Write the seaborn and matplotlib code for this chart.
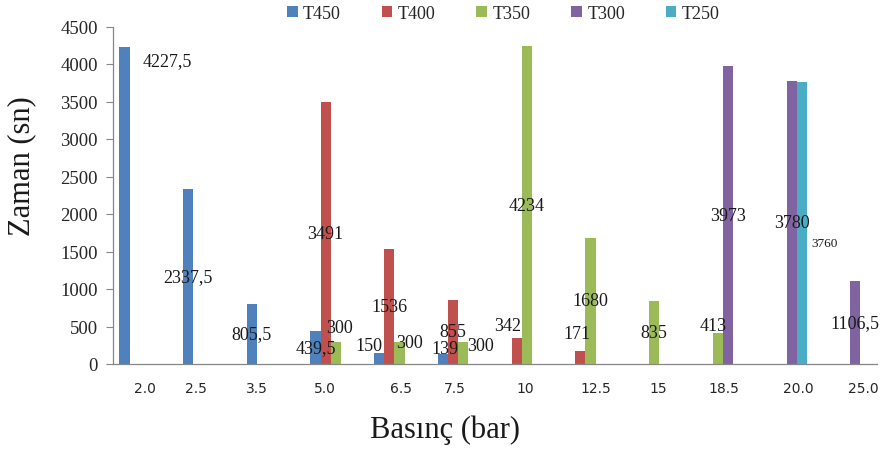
import numpy as np
import pandas as pd
import matplotlib
matplotlib.use("Agg")
import matplotlib.pyplot as plt
import seaborn as sns

nan = np.nan

# Pressure categories (bar) and the times (s) measured at each temperature
categories = ["2.0", "2.5", "3.5", "5.0", "6.5", "7.5", "10", "12.5", "15", "18.5", "20.0", "25.0"]
series_names = ["T450", "T400", "T350", "T300", "T250"]
t450 = [4227.5, 2337.5, 805.5, 439.5, 150, 139, nan, nan, nan, nan, nan, nan]
t400 = [nan, nan, nan, 3491, 1536, 855, 342, 171, nan, nan, nan, nan]
t350 = [nan, nan, nan, 300, 300, 300, 4234, 1680, 835, 413, nan, nan]
t300 = [nan, nan, nan, nan, nan, nan, nan, nan, nan, 3973, 3780, 1106.5]
t250 = [nan, nan, nan, nan, nan, nan, nan, nan, nan, nan, 3760, nan]
colors = ["#4F81BD", "#C0504D", "#9BBB59", "#8064A2", "#4BACC6"]

# Value labels sit at mid-bar unless listed here: (x shift in categories, y in data)
label_place = {
    ("2.0", "T450"): (0.68, 4050),
    ("5.0", "T350"): (0.06, 493),
    ("6.5", "T450"): (-0.16, 240),
    ("6.5", "T350"): (0.16, 293),
    ("7.5", "T450"): (0.03, 200),
    ("7.5", "T350"): (0.27, 240),
    ("10", "T400"): (-0.14, 507),
    ("12.5", "T400"): (-0.05, 413),
    ("18.5", "T350"): (-0.08, 507),
    ("20.0", "T250"): (0.35, 1613),
}
small_labels = {("20.0", "T250")}
# horizontal shift of the category labels under the axis
xlabel_shift = [0, -0.2, -0.24, -0.17, 0.02, -0.13, -0.03, 0.08, 0.06, 0.1, 0.26, 0.28]

series_values = [t450, t400, t350, t300, t250]
rows = []
for name, vals in zip(series_names, series_values):
    for cat, v in zip(categories, vals):
        if not np.isnan(v):
            rows.append({"Basınç": cat, "Seri": name, "Zaman": v})
df = pd.DataFrame(rows)

sns.set_theme(style="white")
serif = "Liberation Serif"

fig = plt.figure(figsize=(8.83, 4.52), dpi=100)
ax = fig.add_axes([113 / 883, 87 / 452, 764 / 883, 337.5 / 452])

sns.barplot(data=df, x="Basınç", y="Zaman", hue="Seri", order=categories,
            hue_order=series_names, palette=colors, saturation=1, width=0.8,
            linewidth=0, errorbar=None, ax=ax)

ax.set_xlim(-0.5, len(categories) - 0.5)
ax.set_ylim(0, 4500)
ax.set_yticks(np.arange(0, 4501, 500))
ax.set_yticklabels([str(int(t)) for t in np.arange(0, 4501, 500)],
                   fontfamily=serif, fontsize=13.5, color="#262626")
ax.tick_params(axis="y", length=5, width=0.8, color="#868686", pad=6, left=True)
ax.set_xticks(np.arange(len(categories)) + np.array(xlabel_shift))
ax.set_xticklabels(categories, fontfamily="DejaVu Sans", fontsize=10, color="#262626")
ax.tick_params(axis="x", length=0, pad=12)
ax.set_xlabel("")
ax.set_ylabel("")
for side in ["top", "right"]:
    ax.spines[side].set_visible(False)
for side in ["left", "bottom"]:
    ax.spines[side].set_color("#868686")
    ax.spines[side].set_linewidth(0.9)

# value labels, written with a decimal comma
n = len(series_names)
bw = 0.8 / n
for si, (name, vals) in enumerate(zip(series_names, series_values)):
    for ci, (cat, v) in enumerate(zip(categories, vals)):
        if np.isnan(v):
            continue
        xc = ci - 0.4 + bw * (si + 0.5)
        dx, yc = label_place.get((cat, name), (0.0, v / 2))
        txt = (f"{v:.1f}".replace(".", ",") if v != int(v) else str(int(v)))
        size = 9.5 if (cat, name) in small_labels else 13
        ax.text(xc + dx, yc, txt, ha="center", va="center", fontfamily=serif,
                fontsize=size, color="#1a1a1a")

handles, labels = ax.get_legend_handles_labels()
ax.legend_.remove()
fig.legend(handles, labels, loc="center", bbox_to_anchor=(0.57, 0.968), ncol=5,
           frameon=False, prop={"family": serif, "size": 13}, handlelength=0.6,
           handleheight=0.6, handletextpad=0.3, columnspacing=2.25)

fig.text(445 / 883, 1 - 430 / 452, "Basınç (bar)", ha="center", va="center",
         fontfamily=serif, fontsize=22, color="#1a1a1a")
fig.text(22 / 883, 1 - 166 / 452, "Zaman (sn)", ha="center", va="center",
         rotation=90, fontfamily=serif, fontsize=22, color="#1a1a1a")

fig.savefig("out.png", dpi=100)
